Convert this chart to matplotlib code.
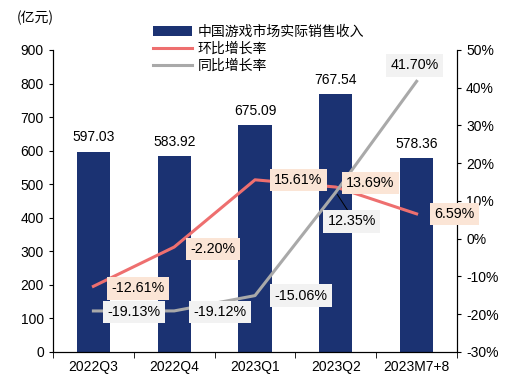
import matplotlib.pyplot as plt
import numpy as np

plt.rcParams['font.family'] = ['Liberation Sans', 'Noto Sans CJK SC', 'DejaVu Sans']

# data
periods = ["2022Q3", "2022Q4", "2023Q1", "2023Q2", "2023M7+8"]
revenue = [597.03, 583.92, 675.09, 767.54, 578.36]
qoq = [-12.61, -2.20, 15.61, 13.69, 6.59]
yoy = [-19.13, -19.12, -15.06, 12.35, 41.70]

bar_color = "#1B3272"
red = "#EE6F6F"
grey = "#A9A9A9"
red_box = "#FBE5D6"
grey_box = "#F2F2F2"

fig = plt.figure(figsize=(5.17, 3.88), dpi=100)
ax = fig.add_axes([0.1025, 0.0928, 0.7815, 0.7784])
ax2 = ax.twinx()

x = np.arange(len(periods))
bars = ax.bar(x, revenue, width=0.41, color=bar_color, label="中国游戏市场实际销售收入", zorder=2)
for xi, v in zip(x, revenue):
    ax.text(xi, v + 22, f"{v:.2f}", ha="center", va="bottom", fontsize=10)

ax.set_xlim(-0.5, len(periods) - 0.5)
ax.set_ylim(0, 900)
ax.set_yticks(range(0, 901, 100))
ax.set_xticks(x)
ax.set_xticklabels(periods)
ax.set_xticks(np.arange(-0.5, len(periods)), minor=True)
ax.tick_params(axis="x", which="major", length=0, labelsize=10, pad=6)
ax.tick_params(axis="x", which="minor", length=4, direction="out")
ax.tick_params(axis="y", labelsize=10, length=3, direction="out")
ax.spines["top"].set_visible(False)

l1, = ax2.plot(x, qoq, color=red, lw=2.2, label="环比增长率", zorder=3)
l2, = ax2.plot(x, yoy, color=grey, lw=2.2, label="同比增长率", zorder=3)
ax2.set_ylim(-30, 50)
ax2.set_yticks(range(-30, 51, 10))
ax2.set_yticklabels([f"{t}%" for t in range(-30, 51, 10)])
ax2.tick_params(axis="y", labelsize=10, length=3, direction="out")
ax2.spines["top"].set_visible(False)

# label offsets in points (dx, dy)
qoq_off = [(32, -1.5), (28, -1.5), (31, 0), (25, 3), (27, 0)]
yoy_off = [(29, -0.7), (33, -0.7), (33, 0), (11.5, -21), (-1.5, 11.5)]

def put(val, xi, off, box):
    ax2.annotate(f"{val:.2f}%", xy=(xi, val), xytext=off, textcoords="offset points",
                 ha="center", va="center", fontsize=10.3, zorder=5,
                 bbox=dict(boxstyle="square,pad=0.3", fc=box, ec="none"))

for i, v in enumerate(qoq):
    put(v, i, qoq_off[i], red_box)
for i, v in enumerate(yoy):
    put(v, i, yoy_off[i], grey_box)
ax2.annotate("", xy=(3, yoy[3]), xytext=(3.17, yoy[3] - 5.6),
             arrowprops=dict(arrowstyle="-", color="black", lw=0.7), zorder=4)

fig.text(0.033, 0.953, "(亿元)", fontsize=10, ha="left", va="center",
         family=['Noto Sans CJK SC'])
fig.legend(handles=[bars, l1, l2], loc="upper left", bbox_to_anchor=(0.272, 0.968),
           frameon=False, handlelength=2.8, handletextpad=0.4,
           labelspacing=0.2, prop={'family': 'Noto Sans CJK SC', 'size': 10})

fig.savefig("out.png", dpi=100)
